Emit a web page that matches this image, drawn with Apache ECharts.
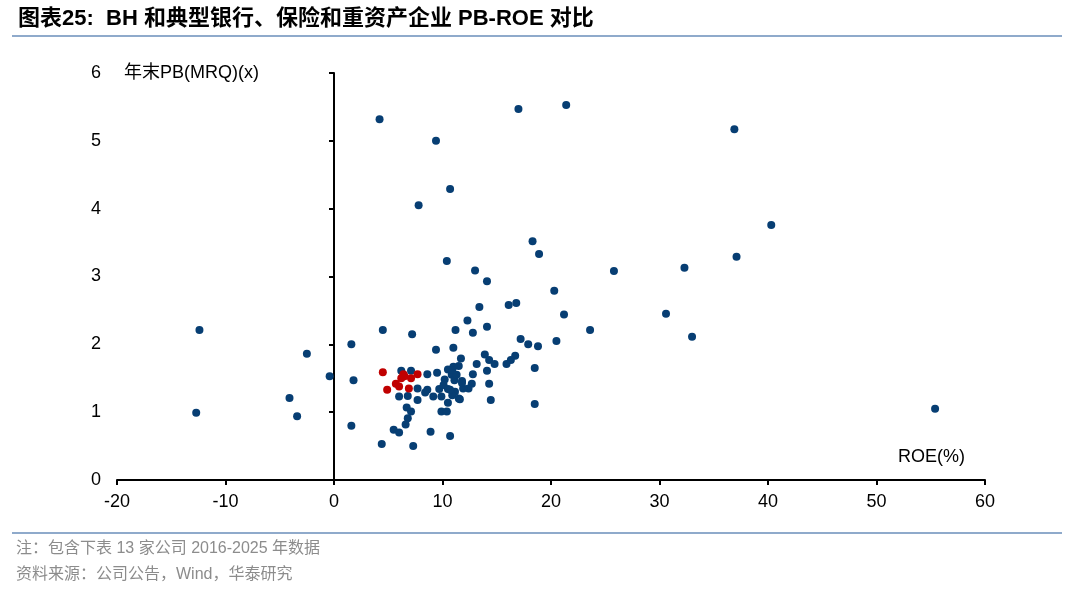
<!DOCTYPE html>
<html>
<head>
<meta charset="utf-8">
<script src="https://cdn.jsdelivr.net/npm/echarts@6/dist/echarts.min.js"></script>
<style>
  html, body { margin: 0; padding: 0; background: #fff; }
  #chart { width: 1080px; height: 592px; }
</style>
</head>
<body>
<div id="chart"></div>
<script>
// 坐标轴刻度
var xTicks = { min: -20, max: 60, step: 10 }
var yTicks = { min: 0, max: 6, step: 1 }

// BH（红点），2016-2025
var bhPoints = [
  [4.5, 1.59], [6.4, 1.56], [7.7, 1.56], [7.1, 1.50], [6.2, 1.50],
  [5.7, 1.42], [6.0, 1.38], [4.9, 1.33], [6.9, 1.35], [6.5, 1.53]
]

// 典型银行、保险和重资产企业（蓝点）
var peerPoints = [
  [-12.7, 0.99], [-12.4, 2.21], [-4.1, 1.21], [-3.4, 0.94], [-2.5, 1.86], [-0.4, 1.53],
  [1.6, 2.0], [1.8, 1.47], [1.6, 0.80], [4.2, 5.32], [4.4, 0.53], [4.5, 2.21],
  [9.4, 5.0], [10.7, 4.29], [7.8, 4.05], [10.4, 3.23], [17.0, 5.47], [21.4, 5.53],
  [36.9, 5.17], [40.3, 3.76], [37.1, 3.29], [32.3, 3.13], [25.8, 3.08], [30.6, 2.45],
  [33.0, 2.11], [55.4, 1.05],
  [18.3, 3.52], [18.9, 3.33], [13.0, 3.09], [14.1, 2.93], [20.3, 2.79], [21.2, 2.44],
  [23.6, 2.21], [16.8, 2.61], [16.1, 2.58], [13.4, 2.55], [12.3, 2.35], [14.1, 2.26],
  [11.2, 2.21], [7.2, 2.15], [12.8, 2.17], [17.2, 2.08], [20.5, 2.05], [17.9, 2.0],
  [18.8, 1.97], [18.5, 1.65], [18.5, 1.12], [9.4, 1.92], [11.0, 1.95],
  [6.2, 1.61], [7.1, 1.61], [8.6, 1.56], [9.5, 1.58], [7.7, 1.35], [8.6, 1.33],
  [8.4, 1.29], [6.0, 1.23], [6.8, 1.24], [7.7, 1.18], [9.15, 1.23], [9.7, 1.34],
  [6.7, 1.07], [7.1, 1.01], [6.8, 0.91], [6.6, 0.82], [5.5, 0.74], [6.0, 0.70],
  [8.9, 0.71], [7.3, 0.50], [9.9, 1.01], [10.4, 1.01], [10.7, 0.65],
  [11.7, 1.79], [13.9, 1.85], [14.3, 1.77], [14.8, 1.71], [13.15, 1.71], [16.7, 1.83],
  [16.3, 1.77], [15.9, 1.71], [11.5, 1.68], [11.0, 1.67], [10.5, 1.63], [14.1, 1.61],
  [12.8, 1.56], [10.85, 1.55], [10.2, 1.48], [11.1, 1.47], [11.8, 1.46], [14.3, 1.42],
  [12.7, 1.42], [12.4, 1.35], [11.9, 1.35], [10.1, 1.40], [10.5, 1.34], [11.15, 1.30],
  [10.9, 1.25], [11.5, 1.20], [10.5, 1.14], [14.45, 1.18],
  [10.7, 1.33], [9.9, 1.23], [11.6, 1.19], [11.8, 1.43], [11.3, 1.55], [10.9, 1.62]
]

var titleText = '图表25:  BH 和典型银行、保险和重资产企业 PB-ROE 对比'
var yName = '年末PB(MRQ)(x)'
var xName = 'ROE(%)'
var noteText = '注：包含下表 13 家公司 2016-2025 年数据'
var sourceText = '资料来源：公司公告，Wind，华泰研究'

var myChart = echarts.init(document.getElementById('chart'))

var lineColor = '#8faacb'
var font = '"Liberation Sans", Arial, "Noto Sans CJK SC", sans-serif'
var gridLeft = 117, gridRight = 95
var gridWidth = 1080 - gridLeft - gridRight
// 纵轴线放在 x=0 处（onZero 对 y 轴不生效，用 offset 挪过去）
var yLineOffset = -(0 - xTicks.min) / (xTicks.max - xTicks.min) * gridWidth

var option = {
  animation: false,
  grid: { left: gridLeft, right: gridRight, top: 73, bottom: 112 },
  xAxis: {
    type: 'value',
    min: xTicks.min, max: xTicks.max, interval: xTicks.step,
    axisLine: { show: true, onZero: false, lineStyle: { color: '#000', width: 2 } },
    axisTick: { show: true, length: 5, lineStyle: { color: '#000', width: 2 } },
    axisLabel: { color: '#000', fontSize: 18, fontFamily: font, margin: 13 },
    splitLine: { show: false }
  },
  yAxis: [
    {
      // 左侧只显示刻度文字
      type: 'value',
      position: 'left',
      min: yTicks.min, max: yTicks.max, interval: yTicks.step,
      axisLine: { show: false },
      axisTick: { show: false },
      axisLabel: { color: '#000', fontSize: 18, fontFamily: font, margin: 16 },
      splitLine: { show: false }
    },
    {
      // x=0 处的纵轴线
      type: 'value',
      position: 'left',
      offset: yLineOffset,
      min: yTicks.min, max: yTicks.max, interval: yTicks.step,
      axisLine: { show: true, onZero: false, lineStyle: { color: '#000', width: 2 } },
      axisTick: { show: true, length: 5, lineStyle: { color: '#000', width: 2 } },
      axisLabel: { show: false },
      splitLine: { show: false }
    }
  ],
  series: [
    {
      name: 'peers',
      type: 'scatter',
      symbolSize: 8,
      itemStyle: { color: '#073e73', opacity: 1 },
      data: peerPoints,
      z: 2
    },
    {
      name: 'BH',
      type: 'scatter',
      symbolSize: 8,
      itemStyle: { color: '#c00000', opacity: 1 },
      data: bhPoints,
      z: 3
    }
  ],
  graphic: [
    {
      type: 'text', left: 18, top: 8,
      style: { text: titleText, font: 'bold 22px "Liberation Sans", Arial, "Noto Sans CJK SC", sans-serif', fill: '#000' }
    },
    {
      type: 'line',
      shape: { x1: 12, y1: 36, x2: 1062, y2: 36 },
      style: { stroke: lineColor, lineWidth: 2 }
    },
    {
      type: 'text', left: 124, top: 64,
      style: { text: yName, font: '18px ' + font, fill: '#000' }
    },
    {
      type: 'text', left: 898, top: 448,
      style: { text: xName, font: '18px ' + font, fill: '#000' }
    },
    {
      type: 'line',
      shape: { x1: 12, y1: 533, x2: 1062, y2: 533 },
      style: { stroke: lineColor, lineWidth: 2 }
    },
    {
      type: 'text', left: 16, top: 541,
      style: { text: noteText, font: '16px ' + font, fill: '#8c8c8c' }
    },
    {
      type: 'text', left: 16, top: 567,
      style: { text: sourceText, font: '16px ' + font, fill: '#8c8c8c' }
    }
  ]
}

myChart.setOption(option)
</script>
</body>
</html>
